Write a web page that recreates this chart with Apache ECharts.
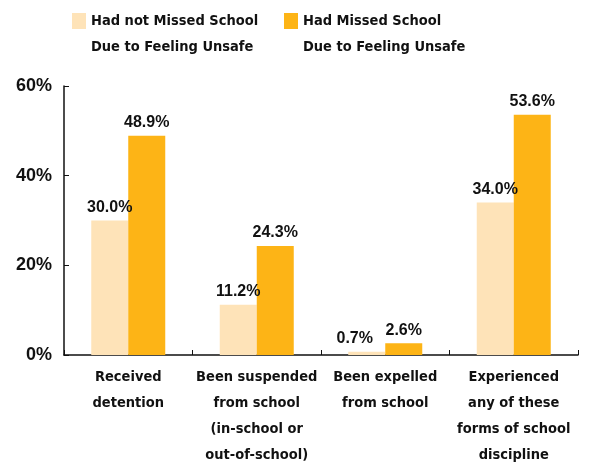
<!DOCTYPE html>
<html>
<head>
<meta charset="UTF-8">
<script type="text/javascript" src="https://cdn.jsdelivr.net/npm/echarts@6/dist/echarts.min.js"></script>
<title>School discipline</title>
<style>
  html, body { margin: 0; padding: 0; background: #fff; }
  #main { width: 595px; height: 468px; }
</style>
</head>
<body>
<div id="main"></div>
<script type="text/javascript">
	var categories = [
		"Received\ndetention",
		"Been suspended\nfrom school\n(in-school or\nout-of-school)",
		"Been expelled\nfrom school",
		"Experienced\nany of these\nforms of school\ndiscipline"
	];
	var notMissed = [30.0, 11.2, 0.7, 34.0];
	var missed = [48.9, 24.3, 2.6, 53.6];
	var seriesNames = [
		"Had not Missed School\nDue to Feeling Unsafe",
		"Had Missed School\nDue to Feeling Unsafe"
	];
	var yTicks = [0, 20, 40, 60];

	var narrow = "'Liberation Sans Narrow', 'DejaVu Sans Condensed', sans-serif";
	var wide = "'Liberation Sans', Arial, sans-serif";

	// square sitting at the top of a tall icon box, so it lines up with the first text line
	var topSquare = 'path://M0,0L14,0L14,16L0,16Z M0,42L0,42';

	var myChart = echarts.init(document.getElementById('main'));

	function legendAt(left, name) {
		return {
			left: left,
			top: 8,
			padding: 0,
			data: [name],
			icon: topSquare,
			itemWidth: 14,
			itemHeight: 42,
			itemGap: 0,
			selectedMode: false,
			textStyle: {
				fontFamily: narrow,
				fontWeight: 'bold',
				fontSize: 14.5,
				color: '#111',
				lineHeight: 26
			}
		};
	}

	var labelBase = {
		show: true,
		position: 'top',
		distance: 5,
		fontFamily: wide,
		fontWeight: 'bold',
		fontSize: 16,
		color: '#111',
		formatter: function (p) { return p.value.toFixed(1) + '%'; }
	};

	var option = {
		animation: false,
		backgroundColor: '#fff',
		legend: [legendAt(72, seriesNames[0]), legendAt(284, seriesNames[1])],
		grid: { left: 64, right: 17, top: 86, bottom: 112, containLabel: false },
		xAxis: {
			type: 'category',
			data: categories,
			axisLine: { lineStyle: { color: '#111', width: 1.5 } },
			axisTick: { show: true, inside: true, length: 5, alignWithLabel: false, lineStyle: { color: '#111' } },
			axisLabel: {
				interval: 0,
				margin: 9,
				fontFamily: narrow,
				fontWeight: 'bold',
				fontSize: 14.5,
				lineHeight: 26,
				color: '#111'
			}
		},
		yAxis: {
			type: 'value',
			min: yTicks[0],
			max: yTicks[yTicks.length - 1],
			interval: 20,
			splitLine: { show: false },
			axisLine: { show: true, lineStyle: { color: '#111', width: 1.5 } },
			axisTick: { show: true, inside: true, length: 5, lineStyle: { color: '#111' } },
			axisLabel: {
				margin: 12,
				fontFamily: wide,
				fontWeight: 'bold',
				fontSize: 18,
				color: '#111',
				formatter: '{value}%'
			}
		},
		series: [
			{
				name: seriesNames[0],
				type: 'bar',
				barWidth: 37,
				barGap: '0%',
				itemStyle: { color: '#FEE3B8' },
				label: labelBase,
				data: notMissed.map(function (v, i) {
					return i === 2 ? { value: v, label: { offset: [-12, 0] } } : v;
				})
			},
			{
				name: seriesNames[1],
				type: 'bar',
				barWidth: 37,
				barGap: '0%',
				itemStyle: { color: '#FDB416' },
				label: labelBase,
				data: missed
			}
		]
	};
	myChart.setOption(option);
</script>
</body>
</html>
